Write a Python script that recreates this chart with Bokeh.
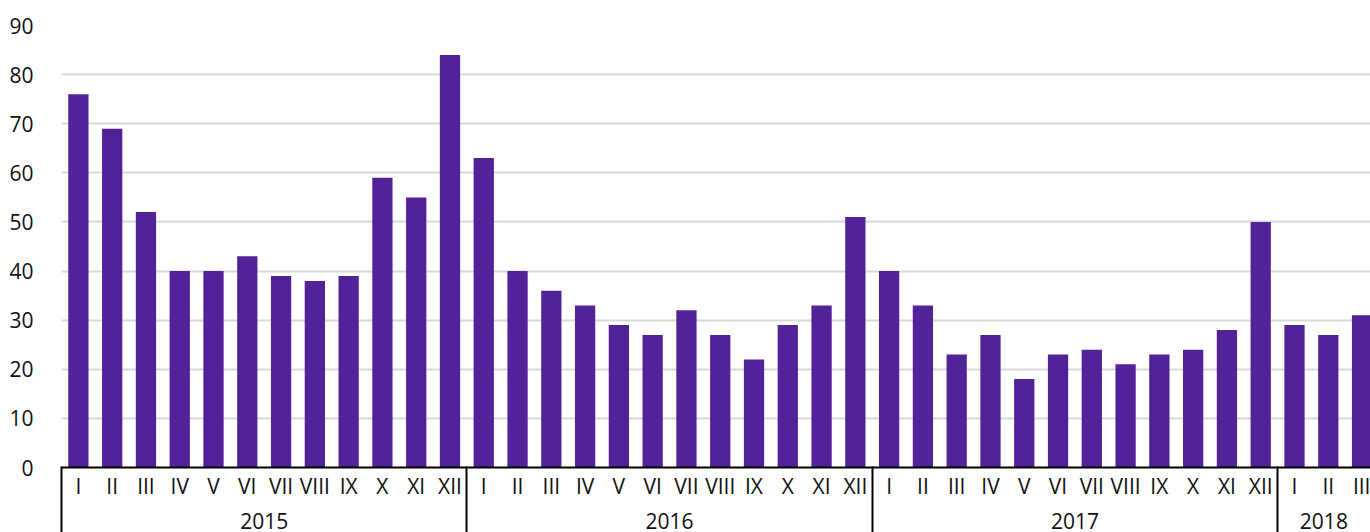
from bokeh.plotting import figure
from bokeh.models import Range1d, FixedTicker, LinearAxis, ColumnDataSource
from bokeh.embed import file_html
from bokeh.resources import INLINE

years = ["2015", "2016", "2017", "2018"]
months = ["I", "II", "III", "IV", "V", "VI", "VII", "VIII", "IX", "X", "XI", "XII"]
values_2015 = [76, 69, 52, 40, 40, 43, 39, 38, 39, 59, 55, 84]
values_2016 = [63, 40, 36, 33, 29, 27, 32, 27, 22, 29, 33, 51]
values_2017 = [40, 33, 23, 27, 18, 23, 24, 21, 23, 24, 28, 50]
values_2018 = [29, 27, 31]

series = [values_2015, values_2016, values_2017, values_2018]
vals, labels, xs = [], [], []
for s in series:
    for j, v in enumerate(s):
        xs.append(len(vals) + 0.5)
        vals.append(v)
        labels.append(months[j])

src = ColumnDataSource(dict(x=xs, top=vals))

FONT = "Open Sans"
TXT = "#111111"
FS = "21px"

p = figure(width=1370, height=532, output_backend="svg", toolbar_location=None,
           x_range=Range1d(0, 38.75), y_range=Range1d(0, 90),
           min_border_left=61, min_border_right=0, min_border_top=25, min_border_bottom=0,
           x_axis_location=None)
p.outline_line_color = None
p.background_fill_color = "white"

p.vbar(x="x", top="top", width=0.6, source=src, fill_color="#522398", line_color=None)

# y axis
p.yaxis.ticker = FixedTicker(ticks=list(range(0, 91, 10)))
p.yaxis.axis_line_color = None
p.yaxis.major_tick_line_color = None
p.yaxis.minor_tick_line_color = None
p.yaxis.major_label_standoff = 22
p.yaxis.major_label_text_font = FONT
p.yaxis.major_label_text_font_size = FS
p.yaxis.major_label_text_color = TXT

p.ygrid.ticker = FixedTicker(ticks=list(range(10, 91, 10)))
p.ygrid.grid_line_color = "#d9d9d9"
p.ygrid.grid_line_width = 2
p.xgrid.grid_line_color = None

# month axis
boundaries = [0, 12, 24, 36]
month_axis = LinearAxis(ticker=FixedTicker(ticks=xs),
                        major_label_overrides={x: l for x, l in zip(xs, labels)})
month_axis.axis_line_color = "black"
month_axis.axis_line_width = 2
month_axis.major_tick_line_color = None
month_axis.minor_tick_line_color = None
month_axis.major_label_standoff = -2
month_axis.major_label_text_font = FONT
month_axis.major_label_text_font_size = FS
month_axis.major_label_text_color = TXT
p.add_layout(month_axis, "below")

# year axis
year_pos = [6, 18, 30, 37.37]
year_axis = LinearAxis(ticker=FixedTicker(ticks=year_pos),
                       major_label_overrides={x: y for x, y in zip(year_pos, years)})
year_axis.axis_line_color = None
year_axis.major_tick_line_color = None
year_axis.minor_tick_line_color = None
year_axis.major_label_standoff = 4
year_axis.major_label_text_font = FONT
year_axis.major_label_text_font_size = FS
year_axis.major_label_text_color = TXT
p.add_layout(year_axis, "below")

# separator axis: only minor ticks at year boundaries, drawn upward to the month axis line
sep_axis = LinearAxis(ticker=FixedTicker(ticks=[], minor_ticks=boundaries))
sep_axis.axis_line_color = None
sep_axis.major_tick_line_color = None
sep_axis.minor_tick_line_color = "black"
sep_axis.minor_tick_line_width = 2
sep_axis.minor_tick_in = 65
sep_axis.minor_tick_out = 1
sep_axis.major_label_standoff = 0
p.add_layout(sep_axis, "below")

open("out.html", "w").write(file_html(p, INLINE))
